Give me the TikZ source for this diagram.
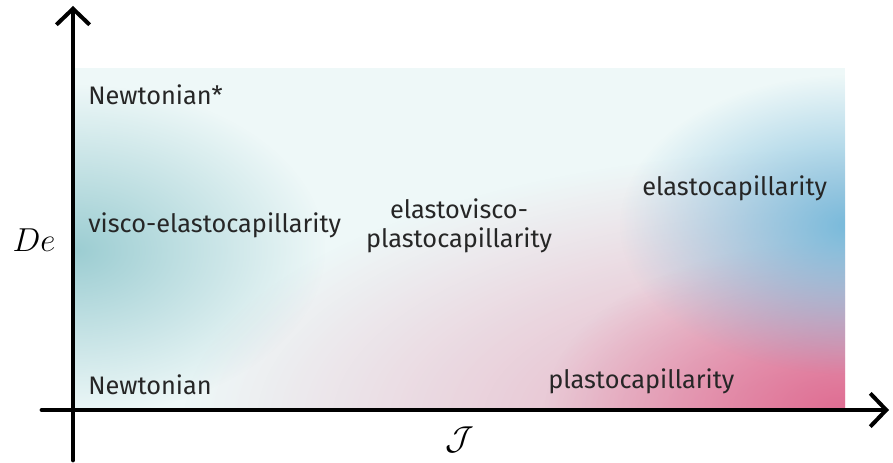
\documentclass[tikz,border=0pt]{standalone}
\usepackage{fontspec}
\setsansfont{Fira Sans}
\usepackage{xcolor}
\usetikzlibrary{arrows.meta,positioning,fadings}
\definecolor{bgcyan}{HTML}{EEF8F8}
\definecolor{tealsoft}{HTML}{9CCDD2}
\definecolor{bluesoft}{HTML}{78BADB}
\definecolor{pinkdeep}{HTML}{DE5F88}
\definecolor{inktext}{HTML}{262626}
\tikzfading[name=blob,inner color=transparent!0,outer color=transparent!100]

\begin{document}
\begin{tikzpicture}[x=0.75pt,y=-0.75pt]
    \tikzstyle{axis}=[line width=3.6pt,line cap=round,-{Straight Barb[length=12pt,width=25pt,line width=3pt]}]
    \tikzstyle{regime}=[font=\sffamily\fontsize{19}{22}\selectfont,text=inktext,inner sep=0pt]
    \useasboundingbox (0,0) rectangle (893,463);
    % coloured background of the map
    \begin{scope}
      \clip (75,68) rectangle (845,410);
      \fill[bgcyan] (75,68) rectangle (845,410);
      \fill[tealsoft,path fading=blob] (75,250) ellipse [x radius=250,y radius=165];
      \fill[pinkdeep,opacity=0.55,path fading=blob] (845,420) ellipse [x radius=660,y radius=270];
      \fill[pinkdeep,opacity=0.8,path fading=blob] (845,410) ellipse [x radius=300,y radius=170];
      \fill[bluesoft,path fading=blob] (850,225) ellipse [x radius=230,y radius=150];
    \end{scope}
    % axes
    \coordinate (ybot) at (73,460);
    \coordinate (ytop) at (73,6);
    \coordinate (xleft) at (42,410);
    \coordinate (xright) at (889,410);
    \draw[axis] (ybot) -- (ytop);
    \draw[axis] (xleft) -- (xright);
    \node (De) at (34,240) {\fontsize{30}{34}\selectfont$De$};
    \node (J) at (460,440) {\fontsize{28}{32}\selectfont$\mathcal{J}$};
    % regimes
    \node[regime,anchor=west] (newtstar) at (88,95) {Newtonian*};
    \node[regime,anchor=west] (visco) at (88,225) {visco-elastocapillarity};
    \node[regime,align=center] (evp) at (459,226) {elastovisco-\\plastocapillarity};
    \node[regime,anchor=west] (elasto) at (642,188) {elastocapillarity};
    \node[regime,anchor=west] (plasto) at (548,381) {plastocapillarity};
    \node[regime,anchor=west] (newt) at (88,385) {Newtonian};
  \end{tikzpicture}
\end{document}
